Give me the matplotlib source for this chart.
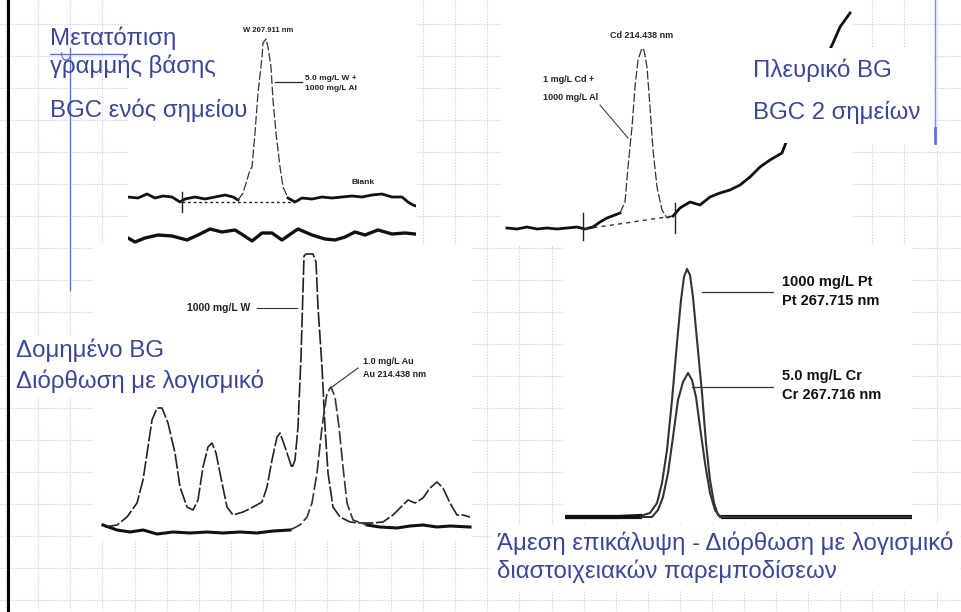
import numpy as np
import matplotlib.pyplot as plt
from matplotlib.patches import Rectangle, Arc

# ---- data (x = channel, y = signal) ----
# panel 1: baseline shift, one-point BGC
w_x = [0, 10, 19, 27, 35, 44, 52, 57, 67, 77, 87, 97, 105, 110, 115, 119, 122, 124,
       127, 130, 134, 135, 138, 140, 143, 145, 148, 152, 155, 160, 167, 174, 184, 194,
       204, 214, 224, 234, 244, 254, 264, 274, 280, 285, 288]
w_y = [50, 49, 53, 49, 51, 50, 45, 48, 50, 48, 50, 52, 50, 47, 54, 67, 77, 80,
       114, 154, 190, 204, 208, 200, 180, 147, 114, 80, 60, 49, 45, 49, 48, 50,
       49, 50, 51, 50, 52, 53, 50, 50, 45, 42, 41]
blank_x = [0, 7, 17, 30, 44, 59, 70, 82, 94, 107, 115, 124, 134, 144, 154, 164, 170,
           184, 197, 207, 217, 227, 237, 250, 264, 277, 287]
blank_y = [9, 5, 9, 12, 11, 7, 12, 18, 15, 17, 12, 6, 14, 14, 7, 14, 18,
           12, 8, 7, 10, 15, 12, 17, 13, 14, 13]

# panel 2: sloping background, two-point BGC
cd_x = [5, 15, 25, 35, 45, 55, 65, 75, 83, 91, 98, 105, 113, 118, 123, 126, 130, 133,
        136, 140, 142, 145, 148, 151, 155, 160, 165, 171, 178, 188, 198, 208, 218, 228,
        238, 248, 258, 268, 280, 285, 291, 303, 318, 331, 338, 348]
cd_y = [17, 16, 18, 16, 17, 16, 17, 18, 16, 18, 23, 27, 30, 32, 43, 78, 118, 158,
        185, 197, 195, 178, 138, 95, 58, 35, 27, 29, 37, 43, 40, 48, 52, 55,
        60, 68, 78, 85, 92, 105, 122, 145, 175, 202, 218, 232]

# panel 3: structured background (W) and Au line
wst_x = [12, 24, 34, 44, 50, 55, 59, 64, 69, 75, 82, 87, 94, 100, 105, 110, 115, 119,
         123, 129, 134, 140, 150, 160, 169, 174, 179, 184, 187, 192, 199, 202, 205, 208,
         210, 211, 213, 220, 223, 225, 229, 232, 235, 240, 247, 257, 267, 280, 290, 300,
         310, 315, 322, 330, 337, 344, 350, 357, 364, 370, 377]
wst_y = [13, 15, 23, 37, 60, 93, 120, 132, 132, 117, 87, 53, 33, 30, 40, 73, 93, 97,
         87, 57, 33, 25, 28, 33, 38, 53, 80, 103, 107, 93, 72, 80, 113, 183,
         250, 284, 286, 286, 278, 233, 173, 113, 67, 33, 23, 18, 17, 17, 18, 25,
         35, 40, 37, 42, 52, 58, 52, 37, 25, 25, 23]
au_x = [10, 24, 37, 50, 64, 80, 97, 114, 130, 147, 164, 180, 197, 207, 214, 219, 224,
        229, 234, 238, 242, 246, 250, 254, 260, 274, 287, 304, 317, 330, 344, 357, 377]
au_y = [15, 10, 8, 10, 6, 8, 7, 8, 7, 8, 7, 9, 10, 15, 23, 37, 67,
        113, 147, 153, 143, 113, 73, 37, 20, 15, 13, 12, 14, 15, 13, 14, 13]

# panel 4: direct spectral overlap Pt / Cr
pt_x = [2, 28, 55, 75, 85, 92, 97, 102, 107, 112, 116, 119, 122, 125, 128, 132, 137,
        141, 145, 149, 153, 158, 178, 212, 245, 278, 312, 347]
pt_y = [6, 6, 6, 7, 10, 20, 40, 73, 123, 180, 223, 246, 254, 248, 226, 183, 130,
        80, 43, 20, 8, 6, 6, 6, 6, 6, 6, 6]
cr_x = [2, 75, 87, 93, 98, 103, 108, 113, 118, 123, 127, 131, 135, 140, 145, 150, 155, 347]
cr_y = [6, 6, 6, 13, 26, 50, 86, 123, 141, 150, 143, 126, 96, 60, 30, 13, 6, 6]

blue = '#3a4795'
W, H = 962, 612
fig = plt.figure(figsize=(W / 100, H / 100), dpi=100)


def px_axes(l, t, r, b):
    return fig.add_axes([l / W, 1 - b / H, (r - l) / W, (b - t) / H])


# slide background: dashed light-blue grid, black rule, blue template lines
bg = px_axes(0, 0, W, H)
bg.set_xlim(0, W)
bg.set_ylim(H, 0)
bg.axis('off')
for gx in np.arange(6.2, W, 32.08):
    bg.plot([gx, gx], [0, H], color='#d0d6f4', lw=0.8, ls=(0, (1.5, 1.2)))
for gy in np.arange(24, H, 32):
    bg.plot([0, W], [gy, gy], color='#d0d6f4', lw=0.8, ls=(0, (1.5, 1.2)))
bg.plot([8.5, 8.5], [0, H], color='black', lw=2.2)
bg.plot([50, 128], [53.5, 53.5], color='#5b72e8', lw=1)
bg.plot([70, 70], [48, 290], color='#5b72e8', lw=1)
bg.add_patch(Arc((66, 54), 9, 12, theta1=0, theta2=200, color='#5b72e8', lw=1))
bg.plot([935, 935], [0, 130], color='#7b8ff0', lw=1)
bg.plot([935, 935], [128, 143], color='#5b72e8', lw=2)


def panel(l, t, r, b):
    ax = px_axes(l, t, r, b)
    ax.set_xlim(0, r - l)
    ax.set_ylim(0, b - t)
    ax.set_facecolor('white')
    ax.set_xticks([])
    ax.set_yticks([])
    for s in ax.spines.values():
        s.set_visible(False)
    return ax


def trace(ax, x, y, lo, hi, lw=2.0, thin=0.9, dash=(7, 2)):
    x = np.array(x, float)
    y = np.array(y, float)
    inside = (x > lo) & (x < hi)
    ax.plot(x, np.ma.masked_where(inside, y), color='#111', lw=lw, solid_joinstyle='round')
    idx = np.where(inside)[0]
    i0, i1 = max(idx[0] - 1, 0), min(idx[-1] + 2, len(x))
    ax.plot(x[i0:i1], y[i0:i1], color='#333', lw=thin, dashes=dash)


lab = dict(family='Liberation Sans', fontweight='bold', color='#222')

# panel 1
a1 = panel(128, 0, 416, 247)
trace(a1, w_x, w_y, 112, 158)
a1.plot(blank_x, blank_y, color='#111', lw=2.4)
a1.plot([54, 167], [45, 45], color='#222', lw=1, ls=(0, (2, 2)))
a1.plot([54, 54], [35, 55], color='#222', lw=1)
a1.text(140, 216, 'W 207.911 nm', ha='center', va='center', fontsize=5.5, **lab)
a1.plot([147, 174], [165, 165], color='#222', lw=0.9)
a1.text(177, 169, '5.0 mg/L W +', ha='left', va='center', fontsize=6, **lab)
a1.text(177, 158, '1000 mg/L Al', ha='left', va='center', fontsize=6, **lab)
a1.text(224, 64, 'Blank', ha='left', va='center', fontsize=6, **lab)

# panel 2
a2 = panel(502, 0, 852, 245)
trace(a2, cd_x, cd_y, 120, 168)
a2.plot([83, 171], [16, 29], color='#333', lw=1, ls=(0, (3, 3)))
a2.plot([81, 81], [5, 32], color='#222', lw=1)
a2.plot([173, 173], [12, 42], color='#222', lw=1)
a2.text(140, 210, 'Cd 214.438 nm', ha='center', va='center', fontsize=6.5, **lab)
a2.text(41, 165, '1 mg/L Cd +', ha='left', va='center', fontsize=6.5, **lab)
a2.text(41, 148, '1000 mg/L Al', ha='left', va='center', fontsize=6.5, **lab)
a2.plot([98, 126], [140, 107], color='#444', lw=0.8)

# panel 3
a3 = panel(93, 245, 472, 540)
a3.plot(wst_x, wst_y, color='#222', lw=1.2, dashes=(9, 1.5))
trace(a3, au_x, au_y, 205, 262, lw=2.2, thin=1.2, dash=(8, 2))
a3.text(157, 232, '1000 mg/L W', ha='right', va='center', fontsize=7.5, **lab)
a3.plot([164, 204], [232, 232], color='#333', lw=0.8)
a3.text(270, 178, '1.0 mg/L Au', ha='left', va='center', fontsize=6.5, **lab)
a3.text(270, 165, 'Au 214.438 nm', ha='left', va='center', fontsize=6.5, **lab)
a3.plot([265, 239], [172, 153], color='#333', lw=0.8)

# panel 4
a4 = panel(565, 245, 912, 523)
trace(a4, pt_x, pt_y, 84, 156, lw=3, thin=1.5, dash=(1, 0))
trace(a4, cr_x, cr_y, 86, 156, lw=3, thin=1.5, dash=(1, 0))
a4.plot([137, 208], [231, 231], color='#333', lw=0.9)
a4.plot([127, 208], [136, 136], color='#333', lw=0.9)
lab4 = dict(lab, color='#111')
a4.text(217, 241, '1000 mg/L Pt', ha='left', va='center', fontsize=10.5, **lab4)
a4.text(217, 222, 'Pt 267.715 nm', ha='left', va='center', fontsize=10.5, **lab4)
a4.text(217, 147, '5.0 mg/L Cr', ha='left', va='center', fontsize=10.5, **lab4)
a4.text(217, 128, 'Cr 267.716 nm', ha='left', va='center', fontsize=10.5, **lab4)

# overlay: slide text boxes
ov = px_axes(0, 0, W, H)
ov.set_xlim(0, W)
ov.set_ylim(H, 0)
ov.axis('off')
ov.patch.set_alpha(0)
for (l, t, r, b) in [(743, 48, 934, 143), (10, 337, 270, 397), (493, 524, 960, 590)]:
    ov.add_patch(Rectangle((l, t), r - l, b - t, facecolor='white', edgecolor='none'))

txt = dict(family=['Liberation Sans', 'DejaVu Sans'], fontsize=17.3, color=blue, va='baseline')
ov.text(50, 45, 'Μετατόπιση', **txt)
ov.text(50, 73, 'γραμμής βάσης', **txt)
ov.text(50, 117, 'BGC ενός σημείου', **txt)
ov.text(753, 77, 'Πλευρικό BG', **txt)
ov.text(753, 119, 'BGC 2 σημείων', **txt)
ov.text(16, 357, 'Δομημένο BG', **txt)
ov.text(16, 388, 'Διόρθωση με λογισμικό', **txt)
ov.text(497, 550, 'Άμεση επικάλυψη - Διόρθωση με λογισμικό', **txt)
ov.text(497, 578, 'διαστοιχειακών παρεμποδίσεων', **txt)

fig.savefig('out.png', dpi=100, facecolor='white')
